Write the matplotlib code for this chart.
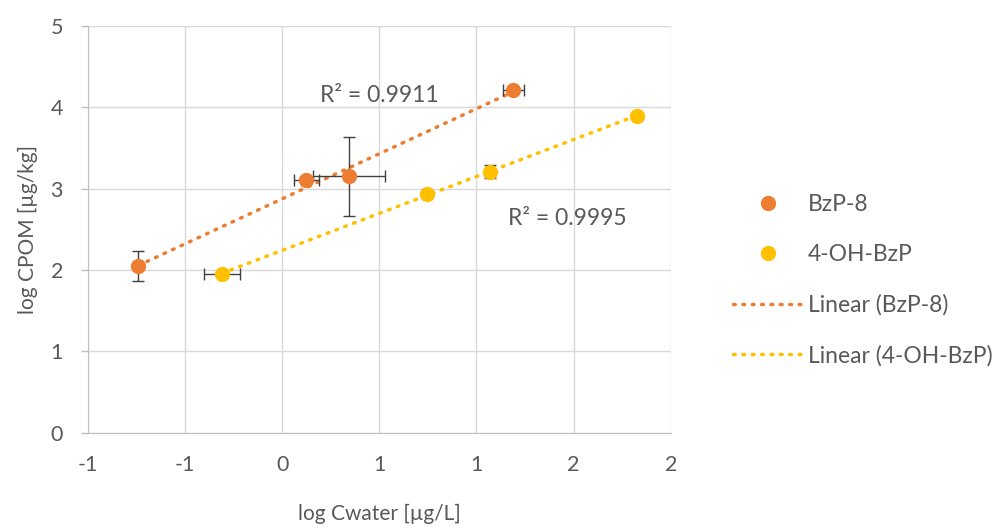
import numpy as np
import matplotlib
matplotlib.use("Agg")
import matplotlib.pyplot as plt
from matplotlib.lines import Line2D

# ---- data ----
bzp8_x = [-0.74, 0.125, 0.345, 1.19]
bzp8_y = [2.05, 3.11, 3.15, 4.21]
bzp8_xerr = [0.02, 0.063, 0.185, 0.053]
bzp8_yerr = [0.18, 0.03, 0.485, 0.03]

oh_x = [-0.31, 0.745, 1.07, 1.825]
oh_y = [1.95, 2.94, 3.21, 3.89]
oh_xerr = [0.094, 0.02, 0.02, 0.02]
oh_yerr = [0.03, 0.04, 0.08, 0.03]

xtick_vals = [-1, -0.5, 0, 0.5, 1, 1.5, 2]
xtick_labels = ["-1", "-1", "0", "1", "1", "2", "2"]
ytick_vals = [0, 1, 2, 3, 4, 5]

r2_labels = ["R\u00b2 = 0.9911", "R\u00b2 = 0.9995"]
series_names = ["BzP-8", "4-OH-BzP"]

c_orange = "#ED7D31"
c_yellow = "#FFC000"
c_text = "#595959"
c_grid = "#D9D9D9"
c_err = "#404040"

plt.rcParams['font.family'] = ['Lato', 'DejaVu Sans']

fig = plt.figure(figsize=(10.03, 5.29), dpi=100)
ax = fig.add_axes([0.0877, 0.182, 0.581, 0.769])

ax.set_xlim(-1, 2)
ax.set_ylim(0, 5)
ax.set_xticks(xtick_vals)
ax.set_xticklabels(xtick_labels)
ax.set_yticks(ytick_vals)
ax.grid(True, color=c_grid, linewidth=1)
ax.set_axisbelow(True)
for s in ["top", "right"]:
    ax.spines[s].set_visible(False)
for s in ["left", "bottom"]:
    ax.spines[s].set_color("#BFBFBF")
ax.tick_params(axis='x', length=0, labelsize=15.5, colors=c_text, pad=16)
ax.tick_params(axis='y', length=5, width=1, color="#BFBFBF", labelsize=15.5,
               labelcolor=c_text, pad=13)

# trendlines
for xs, ys, col in [(bzp8_x, bzp8_y, c_orange), (oh_x, oh_y, c_yellow)]:
    p = np.polyfit(xs, ys, 1)
    xx = np.array([min(xs), max(xs)])
    ax.plot(xx, np.polyval(p, xx), color=col, linewidth=2.5,
            linestyle=(0, (0.5, 2.2)), dash_capstyle='round', zorder=2)

# error bars and points
for xs, ys, xe, ye, col in [(bzp8_x, bzp8_y, bzp8_xerr, bzp8_yerr, c_orange),
                            (oh_x, oh_y, oh_xerr, oh_yerr, c_yellow)]:
    ax.errorbar(xs, ys, xerr=xe, yerr=ye, fmt='none', ecolor=c_err,
                elinewidth=1, capsize=4.5, capthick=1, zorder=3)
    ax.plot(xs, ys, 'o', color=col, markersize=10, zorder=4)

ax.text(0.50, 4.15, r2_labels[0], fontsize=16.5, color=c_text, ha='center', va='center')
ax.text(1.47, 2.63, r2_labels[1], fontsize=16.5, color=c_text, ha='center', va='center')

ax.set_xlabel("log Cwater [\u00b5g/L]", fontsize=15, color=c_text, labelpad=21)
ax.set_ylabel("log CPOM [\u00b5g/kg]", fontsize=15, color=c_text, labelpad=9)

handles = [
    Line2D([], [], marker='o', linestyle='none', color=c_orange, markersize=10),
    Line2D([], [], marker='o', linestyle='none', color=c_yellow, markersize=10),
    Line2D([], [], color=c_orange, linewidth=2.5, linestyle=(0, (0.5, 2.2)), dash_capstyle='round'),
    Line2D([], [], color=c_yellow, linewidth=2.5, linestyle=(0, (0.5, 2.2)), dash_capstyle='round'),
]
labels = [series_names[0], series_names[1],
          "Linear (" + series_names[0] + ")", "Linear (" + series_names[1] + ")"]
leg = fig.legend(handles, labels, loc='upper left', bbox_to_anchor=(0.731, 0.633),
                 frameon=False, fontsize=16.5, labelspacing=1.27, handlelength=3.0,
                 handletextpad=0.25, borderaxespad=0, borderpad=0)
for t in leg.get_texts():
    t.set_color(c_text)

fig.savefig("out.png", dpi=100)
